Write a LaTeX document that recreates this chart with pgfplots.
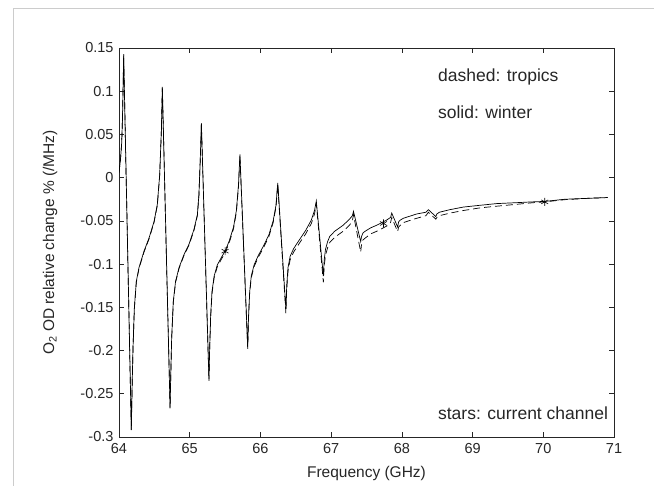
\documentclass[border=0pt]{standalone}
\usepackage{fontspec}
\setmainfont{Liberation Sans}
\usepackage{pgfplots}
\pgfplotsset{compat=1.18}

% solid: winter
\pgfplotstableread{
x y
64.000 0.006
64.020 0.020
64.038 0.040
64.050 0.070
64.058 0.105
64.066 0.143
64.174 -0.292
64.186 -0.240
64.198 -0.197
64.217 -0.151
64.245 -0.120
64.283 -0.104
64.354 -0.085
64.424 -0.070
64.495 -0.051
64.542 -0.031
64.575 0.003
64.599 0.054
64.613 0.105
64.722 -0.266
64.733 -0.225
64.745 -0.185
64.768 -0.143
64.800 -0.120
64.849 -0.104
64.919 -0.089
64.990 -0.077
65.060 -0.060
65.108 -0.043
65.130 -0.020
65.150 0.023
65.165 0.063
65.272 -0.233
65.283 -0.195
65.296 -0.160
65.315 -0.132
65.345 -0.114
65.390 -0.101
65.450 -0.092
65.500 -0.085
65.560 -0.073
65.620 -0.057
65.660 -0.038
65.690 -0.008
65.710 0.027
65.820 -0.196
65.832 -0.160
65.848 -0.132
65.870 -0.114
65.910 -0.101
65.970 -0.090
66.050 -0.078
66.120 -0.066
66.180 -0.050
66.220 -0.032
66.245 -0.006
66.360 -0.152
66.372 -0.125
66.390 -0.104
66.420 -0.091
66.470 -0.082
66.550 -0.072
66.640 -0.061
66.720 -0.049
66.765 -0.038
66.790 -0.027
66.890 -0.114
66.902 -0.095
66.920 -0.083
66.950 -0.074
66.980 -0.068
67.050 -0.062
67.170 -0.055
67.260 -0.048
67.300 -0.044
67.316 -0.039
67.418 -0.074
67.430 -0.068
67.450 -0.064
67.480 -0.062
67.560 -0.058
67.645 -0.055
67.786 -0.049
67.840 -0.046
67.857 -0.041
67.940 -0.057
67.955 -0.051
67.980 -0.049
68.020 -0.047
68.210 -0.042
68.340 -0.040
68.375 -0.037
68.480 -0.045
68.495 -0.042
68.530 -0.040
68.680 -0.037
68.870 -0.034
69.100 -0.032
69.340 -0.030
69.600 -0.029
69.850 -0.028
70.020 -0.0275
70.300 -0.025
70.600 -0.024
70.910 -0.023
}\winter

% dashed: tropics
\pgfplotstableread{
x y
64.000 0.006
64.020 0.020
64.038 0.040
64.050 0.070
64.058 0.105
64.066 0.142
64.174 -0.293
64.186 -0.240
64.198 -0.198
64.217 -0.152
64.245 -0.121
64.283 -0.105
64.354 -0.086
64.424 -0.071
64.495 -0.052
64.542 -0.032
64.575 0.002
64.599 0.053
64.613 0.104
64.722 -0.267
64.733 -0.226
64.745 -0.186
64.768 -0.144
64.800 -0.121
64.849 -0.105
64.919 -0.090
64.990 -0.078
65.060 -0.061
65.108 -0.044
65.130 -0.021
65.150 0.022
65.165 0.062
65.272 -0.235
65.283 -0.197
65.296 -0.162
65.315 -0.134
65.345 -0.116
65.390 -0.103
65.450 -0.094
65.500 -0.087
65.560 -0.075
65.620 -0.059
65.660 -0.040
65.690 -0.010
65.710 0.025
65.820 -0.198
65.832 -0.162
65.848 -0.134
65.870 -0.116
65.910 -0.103
65.970 -0.092
66.050 -0.080
66.120 -0.068
66.180 -0.052
66.220 -0.034
66.245 -0.008
66.360 -0.157
66.372 -0.129
66.390 -0.108
66.420 -0.095
66.470 -0.086
66.550 -0.076
66.640 -0.065
66.720 -0.053
66.765 -0.042
66.790 -0.030
66.890 -0.121
66.902 -0.102
66.920 -0.090
66.950 -0.081
66.980 -0.075
67.050 -0.069
67.170 -0.062
67.260 -0.055
67.300 -0.050
67.316 -0.043
67.418 -0.086
67.430 -0.077
67.450 -0.072
67.480 -0.070
67.560 -0.065
67.645 -0.062
67.786 -0.056
67.840 -0.052
67.857 -0.046
67.940 -0.0625
67.955 -0.057
67.980 -0.055
68.020 -0.052
68.210 -0.047
68.340 -0.044
68.375 -0.040
68.480 -0.048
68.495 -0.046
68.530 -0.044
68.680 -0.041
68.870 -0.038
69.100 -0.035
69.340 -0.033
69.600 -0.031
69.850 -0.029
70.020 -0.028
70.300 -0.0255
70.600 -0.024
70.910 -0.023
}\tropics

\begin{document}
\begin{tikzpicture}
\useasboundingbox (0,0) rectangle (654bp,486bp);
\draw[black!20, line width=0.8bp] (13bp,0) -- (13bp,478bp) -- (654bp,478bp);
\begin{axis}[
  at={(119bp,49bp)}, anchor=south west,
  scale only axis, width=495bp, height=389bp,
  xmin=64, xmax=71, ymin=-0.3, ymax=0.15,
  xtick={64,65,66,67,68,69,70,71},
  ytick={-0.3,-0.25,-0.2,-0.15,-0.1,-0.05,0,0.05,0.1,0.15},
  yticklabels={-0.3,-0.25,-0.2,-0.15,-0.1,-0.05,0,0.05,0.1,0.15},
  /pgf/number format/assume math mode=true,
  tick align=inside,
  major tick length=5bp,
  axis line style={black!85, line width=0.6bp},
  tick style={black!85, line width=0.6bp},
  ticklabel style={font=\fontsize{14.5bp}{17bp}\selectfont, text=black!85},
  yticklabel style={xshift=-2bp},
  xticklabel style={yshift=-3bp},
  every axis x label/.style={at={(axis description cs:0.5,-0.0951)}, anchor=center,
    font=\fontsize{15.5bp}{18bp}\selectfont, text=black!85},
  every axis y label/.style={at={(axis description cs:-0.1394,0.5)}, rotate=90, anchor=center,
    font=\fontsize{15.5bp}{18bp}\selectfont, text=black!85},
  xlabel={Frequency (GHz)},
  ylabel={O\textsubscript{2} OD relative change \% (/MHz)},
]
\addplot[black, line width=0.7bp, dash pattern=on 7bp off 4bp] table {\tropics};
\addplot[black, line width=0.7bp] table {\winter};
\addplot[only marks, mark=asterisk, mark size=4bp, mark options={black, line width=0.6bp}]
  coordinates {(65.5,-0.085) (67.74,-0.053) (70.02,-0.028)};
\node[anchor=west, inner sep=0, font=\fontsize{17.5bp}{20bp}\selectfont, text=black!85] at (axis cs:68.51,0.1164) {dashed: tropics};
\node[anchor=west, inner sep=0, font=\fontsize{17.5bp}{20bp}\selectfont, text=black!85] at (axis cs:68.51,0.0759) {solid: winter};
\node[anchor=west, inner sep=0, font=\fontsize{17.5bp}{20bp}\selectfont, text=black!85] at (axis cs:68.51,-0.272) {stars: current channel};
\end{axis}
\end{tikzpicture}
\end{document}
